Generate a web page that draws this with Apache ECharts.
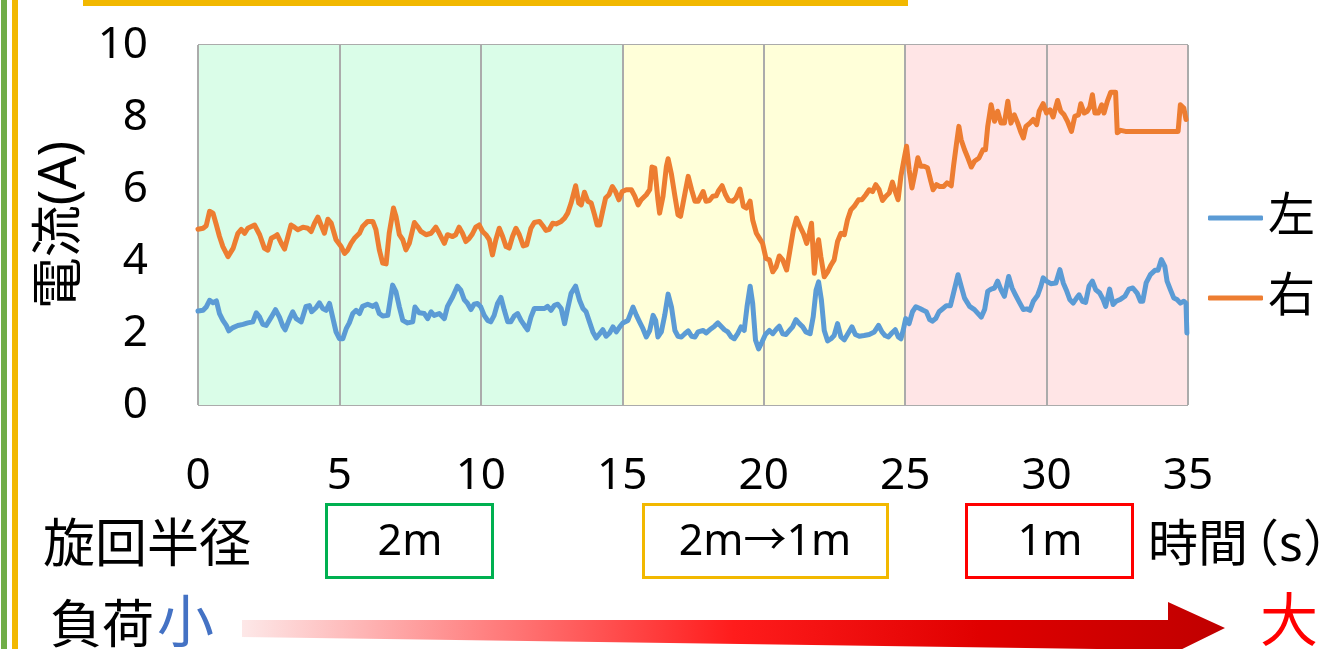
<!DOCTYPE html>
<html>
<head>
<meta charset="utf-8">
<script src="https://cdn.jsdelivr.net/npm/echarts@6/dist/echarts.min.js"></script>
<style>
  html, body { margin: 0; padding: 0; background: #fff; }
  #chart { width: 1327px; height: 649px; }
</style>
</head>
<body>
<div id="chart"></div>
<script>
// 時間(s) の目盛り
var xTicks = [0, 5, 10, 15, 20, 25, 30, 35];
// 区間ごとの背景色 (5秒ずつ)
var bandColors = ["#dafde8", "#dafde8", "#dafde8", "#ffffd9", "#ffffd9", "#ffe5e6", "#ffe5e6"];
var seriesNames = ["左", "右"];

// 左モータ電流 [時間, 電流]
var leftCurrent = [
  [0,2.61],[0.18,2.63],[0.29,2.72],[0.41,2.91],[0.53,2.84],[0.65,2.89],[0.76,2.54],[0.88,2.35],[1.0,2.21],[1.09,2.06],
  [1.24,2.15],[1.41,2.21],[1.59,2.24],[1.76,2.28],[1.94,2.31],[2.06,2.56],[2.18,2.44],[2.29,2.24],[2.41,2.21],[2.59,2.44],
  [2.74,2.65],[2.88,2.44],[3.0,2.19],[3.08,2.09],[3.24,2.4],[3.35,2.59],[3.47,2.4],[3.65,2.31],[3.82,2.74],[3.94,2.76],
  [4.02,2.59],[4.18,2.71],[4.29,2.84],[4.41,2.68],[4.53,2.63],[4.65,2.82],[4.76,2.44],[4.88,2.03],[5.0,1.84],[5.12,1.84],
  [5.24,2.12],[5.35,2.28],[5.47,2.54],[5.59,2.63],[5.71,2.54],[5.82,2.74],[6.0,2.8],[6.18,2.74],[6.29,2.8],[6.41,2.54],
  [6.53,2.47],[6.71,2.49],[6.88,3.33],[7.0,3.14],[7.12,2.72],[7.24,2.35],[7.41,2.28],[7.59,2.31],[7.67,2.72],[7.82,2.56],
  [8.0,2.54],[8.12,2.4],[8.24,2.59],[8.35,2.49],[8.53,2.54],[8.71,2.4],[8.82,2.74],
  [9.0,3.0],[9.17,3.3],[9.29,3.19],[9.41,2.93],[9.53,2.82],[9.65,2.65],[9.76,2.8],[9.88,2.82],[10.0,2.72],[10.12,2.49],
  [10.24,2.35],[10.35,2.31],[10.47,2.49],[10.59,2.82],[10.71,2.99],[10.83,2.63],[10.95,2.31],[11.06,2.31],[11.18,2.47],[11.3,2.54],
  [11.42,2.35],[11.54,2.21],[11.65,2.09],[11.77,2.44],[11.89,2.68],[12.07,2.68],[12.25,2.68],[12.36,2.74],[12.48,2.63],[12.6,2.77],
  [12.72,2.8],[12.84,2.68],[12.96,2.26],[13.07,2.68],[13.19,3.1],[13.35,3.3],[13.49,2.91],[13.61,2.68],[13.72,2.59],[13.84,2.31],
  [13.96,2.03],[14.08,1.86],[14.2,1.98],[14.31,2.09],[14.43,1.91],[14.55,2.0],[14.67,2.17],[14.79,2.03],[14.91,2.17],[15.02,2.28],
  [15.2,2.35],[15.38,2.72],[15.5,2.49],[15.61,2.31],[15.73,2.12],[15.85,1.89],[15.97,2.07],[16.09,2.49],[16.18,2.35],[16.26,1.89],
  [16.38,2.03],[16.5,2.49],[16.62,3.08],[16.74,2.72],[16.86,2.07],[16.97,1.91],[17.09,1.89],[17.21,1.98],[17.33,2.06],[17.45,1.91],
  [17.57,1.89],[17.68,2.03],[17.86,2.07],
  [17.96,2.0],[18.14,2.12],[18.26,2.19],[18.38,2.28],[18.49,2.19],[18.61,2.09],[18.73,2.03],[18.85,1.89],[18.96,1.84],[19.08,1.98],
  [19.2,2.17],[19.31,2.07],[19.41,2.73],[19.52,3.3],[19.61,2.82],[19.71,1.8],[19.82,1.56],[19.94,1.75],[20.06,1.96],[20.2,2.07],
  [20.32,1.98],[20.46,2.12],[20.55,2.19],[20.67,1.98],[20.79,1.96],[20.91,2.07],[21.02,2.17],[21.14,2.37],[21.26,2.26],[21.38,2.17],
  [21.49,2.03],[21.64,1.98],[21.75,2.45],[21.85,3.19],[21.94,3.42],[22.04,2.91],[22.14,2.07],[22.26,1.78],[22.38,1.84],[22.49,1.93],
  [22.61,2.26],[22.73,1.89],[22.85,1.81],[22.96,1.96],[23.12,2.17],[23.24,1.96],[23.38,1.91],[23.55,1.93],[23.73,1.96],[23.91,2.03],
  [24.06,2.21],[24.18,2.03],[24.29,1.93],[24.41,1.89],[24.53,2.0],[24.65,2.09],[24.76,1.89],[24.85,1.84],[24.93,2.07],[25.02,2.4],
  [25.14,2.26],[25.26,2.59],[25.38,2.73],[25.52,2.68],[25.64,2.63],[25.75,2.59],[25.87,2.37],[25.96,2.33],[26.08,2.4],[26.2,2.59],
  [26.34,2.68],[26.46,2.76],[26.6,2.76],[26.71,3.11],[26.87,3.62],[26.98,3.3],[27.1,2.97],[27.28,2.74],[27.45,2.65],[27.61,2.51],
  [27.69,2.44],[27.81,2.65],[27.92,3.16],[28.04,3.22],[28.16,3.25],[28.27,3.44],[28.39,3.2],[28.51,3.02],[28.66,3.57],[28.78,3.25],
  [28.9,3.06],[29.04,2.85],[29.18,2.65],[29.3,2.67],[29.41,2.63],[29.53,2.88],[29.68,3.04],[29.8,3.3],[29.88,3.53],[30.0,3.44],
  [30.15,3.37],[30.33,3.39],[30.47,3.76],[30.59,3.39],[30.7,3.19],[30.82,2.93],[30.94,2.83],[31.06,2.97],[31.15,3.06],[31.27,2.88],
  [31.38,2.85],[31.5,3.3],[31.62,3.44],[31.74,3.2],[31.88,3.11],[32.0,2.93],[32.09,2.74],[32.23,3.22],[32.35,2.79],[32.46,2.88],
  [32.62,2.94],[32.77,3.02],[32.91,3.22],[33.05,3.25],[33.2,3.11],[33.32,2.88],[33.4,2.88],[33.52,3.39],[33.67,3.62],[33.83,3.74],
  [33.94,3.74],[34.06,4.04],[34.18,3.85],[34.26,3.44],[34.38,3.2],[34.5,2.97],[34.61,2.93],[34.73,2.83],[34.85,2.88],[34.93,2.83],
  [34.96,2.0]
];

// 右モータ電流 [時間, 電流]
var rightCurrent = [
  [0,4.88],[0.18,4.91],[0.29,4.98],[0.41,5.38],[0.53,5.33],[0.65,5.0],[0.76,4.68],[0.88,4.4],[1.06,4.12],[1.24,4.35],
  [1.41,4.77],[1.53,4.88],[1.65,4.77],[1.76,4.91],[2.0,5.0],[2.18,4.73],[2.35,4.35],[2.47,4.3],[2.59,4.63],[2.71,4.68],
  [2.8,4.73],[2.94,4.5],[3.06,4.33],[3.18,4.68],[3.29,5.0],[3.41,4.94],[3.53,4.87],[3.71,4.94],[3.88,4.91],[4.0,4.82],
  [4.12,5.05],[4.24,5.22],[4.35,5.0],[4.47,4.77],[4.59,5.16],[4.71,5.05],[4.88,4.59],[5.06,4.4],[5.18,4.21],[5.29,4.3],
  [5.41,4.49],[5.53,4.63],[5.71,4.77],[5.82,4.96],[6.0,5.1],[6.18,5.1],[6.29,4.87],[6.41,4.31],[6.53,3.94],[6.65,3.92],
  [6.76,4.77],[6.91,5.47],[7.0,5.24],[7.12,4.73],[7.24,4.59],[7.35,4.31],[7.47,4.49],[7.65,5.07],[7.76,4.96],[7.88,4.82],
  [8.06,4.73],[8.24,4.77],[8.41,4.94],[8.53,4.77],[8.71,4.49],[8.82,4.73],
  [9.0,4.68],[9.11,4.73],[9.23,4.94],[9.35,4.77],[9.47,4.54],[9.59,4.63],[9.7,4.75],[9.82,4.94],[9.94,5.0],[10.06,4.82],
  [10.18,4.73],[10.3,4.59],[10.41,4.17],[10.53,4.59],[10.65,4.91],[10.77,4.68],[10.89,4.4],[11.0,4.36],[11.12,4.68],[11.24,4.91],
  [11.36,4.73],[11.5,4.42],[11.62,4.45],[11.77,4.91],[11.89,5.07],[12.07,5.1],[12.19,4.98],[12.3,4.85],[12.42,4.88],[12.54,5.05],
  [12.66,5.03],[12.84,5.1],[12.96,5.19],[13.07,5.33],[13.19,5.61],[13.35,6.09],[13.46,5.61],[13.55,5.56],[13.66,5.91],[13.78,5.66],
  [13.9,5.61],[14.02,5.28],[14.11,5.0],[14.2,5.0],[14.29,5.33],[14.41,5.75],[14.53,5.84],[14.65,6.07],[14.76,5.93],[14.88,5.7],
  [15.0,5.93],[15.14,5.98],[15.32,5.98],[15.44,5.8],[15.56,5.56],[15.67,5.7],[15.85,5.84],[15.97,5.98],[16.05,6.61],[16.15,6.58],
  [16.26,5.7],[16.32,5.33],[16.44,5.8],[16.56,6.63],[16.62,6.84],[16.74,6.4],[16.86,5.8],[16.97,5.28],[17.06,5.24],[17.15,5.61],
  [17.33,6.35],[17.45,5.98],[17.57,5.66],[17.68,5.66],[17.86,5.93],
  [17.96,5.66],[18.08,5.68],[18.2,5.8],[18.32,5.81],[18.41,5.96],[18.53,6.09],[18.65,5.84],[18.76,5.68],[18.91,5.66],[19.02,5.75],
  [19.16,6.0],[19.28,5.52],[19.39,5.47],[19.52,5.66],[19.61,5.14],[19.74,4.77],[19.85,4.63],[19.96,4.49],[20.08,4.07],[20.2,4.03],
  [20.32,3.7],[20.44,3.84],[20.55,4.14],[20.67,4.03],[20.81,3.75],[20.93,4.31],[21.05,4.87],[21.16,5.19],[21.28,4.96],[21.4,4.77],
  [21.52,4.49],[21.61,4.77],[21.69,5.05],[21.79,3.66],[21.87,4.35],[21.94,4.59],[22.02,4.12],[22.14,3.56],[22.26,3.7],[22.38,3.89],
  [22.49,4.03],[22.61,4.54],[22.73,4.77],[22.85,4.73],[22.96,5.14],[23.08,5.42],[23.2,5.52],[23.35,5.7],[23.47,5.7],[23.61,5.84],
  [23.73,5.98],[23.85,5.93],[23.96,6.12],[24.08,5.98],[24.2,5.68],[24.32,5.8],[24.44,5.89],[24.55,6.19],[24.65,5.93],[24.75,5.7],
  [24.85,6.35],[24.96,6.82],[25.05,7.19],[25.14,6.54],[25.24,6.03],[25.35,6.45],[25.45,6.87],[25.55,6.63],[25.67,6.63],[25.79,6.59],
  [25.91,6.21],[25.99,5.98],[26.11,6.12],[26.22,6.07],[26.36,6.07],[26.48,6.17],[26.63,6.09],[26.71,6.63],[26.81,7.23],[26.9,7.74],
  [26.98,7.37],[27.1,7.09],[27.22,6.86],[27.34,6.61],[27.45,6.77],[27.61,6.86],[27.75,7.09],[27.84,7.09],[27.92,7.74],[28.04,8.34],
  [28.16,7.88],[28.27,8.16],[28.39,7.83],[28.51,7.83],[28.63,8.44],[28.74,7.83],[28.86,8.06],[28.98,7.83],[29.1,7.56],[29.18,7.42],
  [29.27,7.74],[29.41,7.83],[29.53,7.93],[29.65,7.79],[29.74,8.16],[29.88,8.37],[30.0,8.11],[30.12,8.2],[30.23,8.0],[30.39,8.46],
  [30.5,8.16],[30.62,8.06],[30.74,7.88],[30.88,7.6],[31.0,8.02],[31.13,8.06],[31.21,8.37],[31.33,8.11],[31.44,8.16],[31.53,8.28],
  [31.62,8.62],[31.71,8.11],[31.83,8.11],[31.95,8.34],[32.03,8.11],[32.15,8.44],[32.27,8.69],[32.44,8.69],[32.5,7.56],[32.62,7.63],
  [32.79,7.6],[34.65,7.6],[34.73,8.34],[34.85,8.25],[34.93,7.93]
];

var FONT = "'Noto Sans', 'Noto Sans CJK JP', sans-serif";

var chart = echarts.init(document.getElementById("chart"));

var option = {
  backgroundColor: "#ffffff",
  animation: false,
  grid: { left: 198, top: 45, width: 990, height: 360 },
  legend: {
    data: seriesNames,
    orient: "vertical",
    left: 1203,
    top: 188,
    icon: "roundRect",
    itemWidth: 55,
    itemHeight: 5,
    itemGap: 30,
    textStyle: { fontSize: 47, color: "#000", fontFamily: FONT, lineHeight: 50 }
  },
  xAxis: {
    type: "value",
    min: xTicks[0],
    max: xTicks[xTicks.length - 1],
    interval: 5,
    axisLine: { show: false },
    axisTick: { show: false },
    axisLabel: { fontSize: 44, color: "#000", fontFamily: FONT, margin: 49 },
    splitLine: { show: true, lineStyle: { color: "#ababab", width: 2 } },
    splitArea: { show: true, areaStyle: { color: bandColors } }
  },
  yAxis: {
    type: "value",
    min: 0,
    max: 10,
    interval: 2,
    name: "電流(A)",
    nameLocation: "middle",
    nameGap: 90,
    nameRotate: 90,
    nameTextStyle: { fontSize: 52, color: "#000", fontFamily: FONT },
    axisLine: { show: false },
    axisTick: { show: false },
    axisLabel: { fontSize: 44, color: "#000", fontFamily: FONT, margin: 50 },
    splitLine: { show: true, lineStyle: { color: "#ababab", width: 2 } }
  },
  series: [
    {
      name: seriesNames[0],
      type: "line",
      data: leftCurrent,
      symbol: "none",
      lineStyle: { color: "#5b9bd5", width: 5, cap: "round", join: "round" },
      itemStyle: { color: "#5b9bd5" },
      z: 3
    },
    {
      name: seriesNames[1],
      type: "line",
      data: rightCurrent,
      symbol: "none",
      lineStyle: { color: "#ed7d31", width: 5, cap: "round", join: "round" },
      itemStyle: { color: "#ed7d31" },
      z: 4
    }
  ],
  graphic: [
    // 上の帯と左の縦線
    { type: "rect", shape: { x: 83, y: 0, width: 825, height: 6 }, style: { fill: "#f2b800" } },
    { type: "rect", shape: { x: 1, y: 0, width: 6, height: 649 }, style: { fill: "#70ad47" } },
    { type: "rect", shape: { x: 12, y: 0, width: 6, height: 649 }, style: { fill: "#f2b800" } },
    // 旋回半径
    { type: "text", x: 43, y: 547, style: { text: "旋回半径", fontSize: 52, fill: "#000", fontFamily: FONT, verticalAlign: "middle" } },
    { type: "rect", shape: { x: 326.5, y: 504.5, width: 166, height: 73 }, style: { fill: "none", stroke: "#00b050", lineWidth: 3 } },
    { type: "text", x: 410, y: 543, style: { text: "2m", fontSize: 43, fill: "#000", fontFamily: FONT, align: "center", verticalAlign: "middle" } },
    { type: "rect", shape: { x: 643.5, y: 504.5, width: 244, height: 73 }, style: { fill: "none", stroke: "#f2b800", lineWidth: 3 } },
    { type: "text", x: 765, y: 543, style: { text: "2m→1m", fontSize: 43, fill: "#000", fontFamily: FONT, align: "center", verticalAlign: "middle" } },
    { type: "rect", shape: { x: 966.5, y: 504.5, width: 166, height: 73 }, style: { fill: "none", stroke: "#ff0000", lineWidth: 3 } },
    { type: "text", x: 1050, y: 543, style: { text: "1m", fontSize: 43, fill: "#000", fontFamily: FONT, align: "center", verticalAlign: "middle" } },
    { type: "text", x: 1148, y: 547, style: { text: "時間", fontSize: 50, fill: "#000", fontFamily: FONT, verticalAlign: "middle" } },
    { type: "text", x: 1229, y: 547, style: { text: "（s）", fontSize: 50, fill: "#000", fontFamily: FONT, verticalAlign: "middle" } },
    // 負荷 小 → 大
    { type: "text", x: 50, y: 628, style: { text: "負荷", fontSize: 52, fill: "#000", fontFamily: FONT, verticalAlign: "middle" } },
    { type: "text", x: 157, y: 626, style: { text: "小", fontSize: 57, fill: "#4472c4", fontFamily: FONT, verticalAlign: "middle" } },
    {
      type: "polygon",
      shape: { points: [[242, 620], [1168, 620], [1168, 602], [1225, 628], [1168, 656], [1168, 650], [242, 637]] },
      style: {
        fill: new echarts.graphic.LinearGradient(0, 0, 1, 0, [
          { offset: 0, color: "#fde8e8" },
          { offset: 0.25, color: "#ff8080" },
          { offset: 0.5, color: "#ff1c1c" },
          { offset: 0.75, color: "#e00000" },
          { offset: 1, color: "#c00000" }
        ])
      }
    },
    { type: "text", x: 1260, y: 624, style: { text: "大", fontSize: 58, fill: "#ff0000", fontFamily: FONT, verticalAlign: "middle" } }
  ]
};

chart.setOption(option);
</script>
</body>
</html>
